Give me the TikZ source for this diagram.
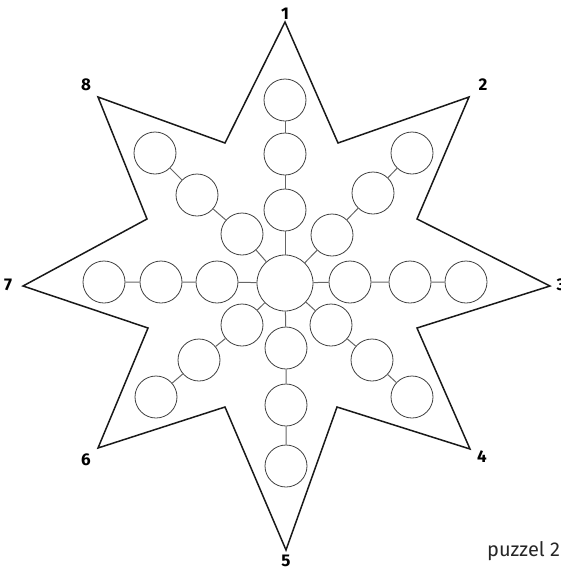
\documentclass[tikz,border=0pt]{standalone}
\usepackage{fontspec}
\setmainfont{Fira Sans}
\usepackage{tikz}
\usetikzlibrary{positioning, calc}

\begin{document}
\begin{tikzpicture}[
    x=1pt, y=-1pt,
    every node/.style={font=\fontsize{17}{20}\selectfont},
    spot/.style={circle, draw=black!75, line width=0.8pt, minimum size=42pt, inner sep=0pt},
    hub/.style={spot, minimum size=56pt},
    link/.style={draw=black!60, line width=1pt},
    outline/.style={draw=black!90, line width=1.5pt, line join=miter},
    tip/.style={font=\fontsize{17}{20}\selectfont\bfseries, inner sep=0pt}
]
\useasboundingbox (0,0) rectangle (561,571);

% star points
\coordinate (p1) at (285,22);
\coordinate (p2) at (469,97);
\coordinate (p3) at (550,286);
\coordinate (p4) at (470,449);
\coordinate (p5) at (286,550);
\coordinate (p6) at (98,448);
\coordinate (p7) at (23,286);
\coordinate (p8) at (98,97);

\draw[outline] (p1) -- (338,143) -- (p2) -- (417,219) -- (p3) -- (417,328)
    -- (p4) -- (337,407) -- (p5) -- (225,407) -- (p6) -- (148,328)
    -- (p7) -- (147,219) -- (p8) -- (225,143) -- cycle;

\node[tip] (t1) at (285,14) {1};
\node[tip] (t2) at (483,85) {2};
\node[tip] (t3) at (561,285) {3};
\node[tip] (t4) at (482,457) {4};
\node[tip] (t5) at (286,561) {5};
\node[tip] (t6) at (86,460) {6};
\node[tip] (t7) at (8,285) {7};
\node[tip] (t8) at (86,85) {8};

% circles
\node[hub] (c0) at (285,283) {};

\node[spot] (n1) at (285,210) {};
\node[spot] (n2) at (285,154) {};
\node[spot] (n3) at (285,100) {};

\node[spot] (s1) at (286,348) {};
\node[spot] (s2) at (286,405) {};
\node[spot] (s3) at (286,466) {};

\node[spot] (e1) at (350,282) {};
\node[spot] (e2) at (410,282) {};
\node[spot] (e3) at (466,282) {};

\node[spot] (w1) at (217,282) {};
\node[spot] (w2) at (161,282) {};
\node[spot] (w3) at (104,282) {};

\node[spot] (ne1) at (332,235) {};
\node[spot] (ne2) at (373,193) {};
\node[spot] (ne3) at (412,153) {};

\node[spot] (nw1) at (242,234) {};
\node[spot] (nw2) at (197,195) {};
\node[spot] (nw3) at (155,153) {};

\node[spot] (sw1) at (242,325) {};
\node[spot] (sw2) at (199,360) {};
\node[spot] (sw3) at (156,397) {};

\node[spot] (se1) at (331,325) {};
\node[spot] (se2) at (372,360) {};
\node[spot] (se3) at (412,397) {};

\draw[link] (c0) -- (n1) -- (n2) -- (n3);
\draw[link] (c0) -- (s1) -- (s2) -- (s3);
\draw[link] (c0) -- (e1) -- (e2) -- (e3);
\draw[link] (c0) -- (w1) -- (w2) -- (w3);
\draw[link] (c0) -- (ne1) -- (ne2) -- (ne3);
\draw[link] (c0) -- (nw1) -- (nw2) -- (nw3);
\draw[link] (c0) -- (sw1) -- (sw2) -- (sw3);
\draw[link] (c0) -- (se1) -- (se2) -- (se3);

\node[anchor=base west, inner sep=0pt, font=\fontsize{20}{22}\selectfont, text=black!85] (caption) at (487,556) {puzzel 2};
\end{tikzpicture}
\end{document}
